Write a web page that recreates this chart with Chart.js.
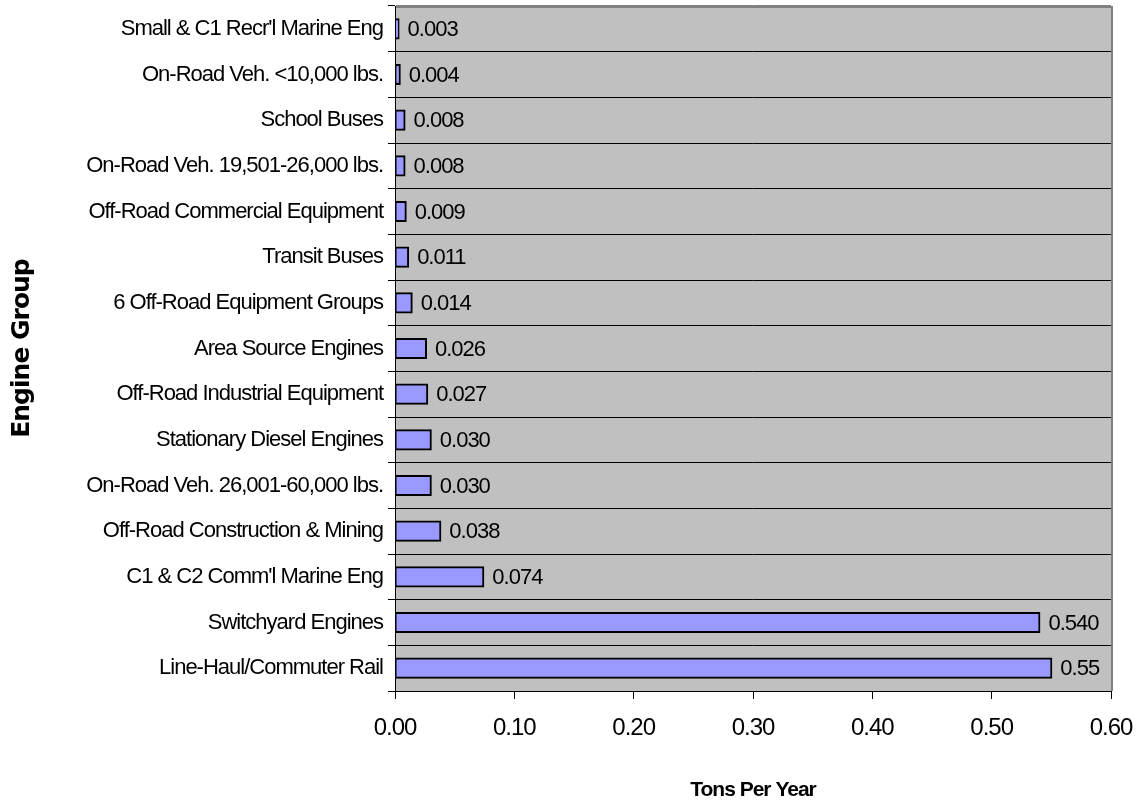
<!DOCTYPE html>
<html>
<head>
<meta charset="utf-8">
<title>Engine Group Emissions</title>
<script src="https://cdn.jsdelivr.net/npm/chart.js@4.4.1/dist/chart.umd.min.js"></script>
<style>
  html, body { margin: 0; padding: 0; background: #ffffff; }
  canvas { display: block; }
</style>
</head>
<body>
<canvas id="chart" width="1142" height="805"></canvas>
<script>
// Engine groups, listed top to bottom
const engineGroups = [
  "Small & C1 Recr'l Marine Eng",
  "On-Road Veh. <10,000 lbs.",
  "School Buses",
  "On-Road Veh. 19,501-26,000 lbs.",
  "Off-Road Commercial Equipment",
  "Transit Buses",
  "6 Off-Road Equipment Groups",
  "Area Source Engines",
  "Off-Road Industrial Equipment",
  "Stationary Diesel Engines",
  "On-Road Veh. 26,001-60,000 lbs.",
  "Off-Road Construction & Mining",
  "C1 & C2 Comm'l Marine Eng",
  "Switchyard Engines",
  "Line-Haul/Commuter Rail"
];

// Tons per year, written as printed beside each bar
const tonsPerYear = [
  "0.003", "0.004", "0.008", "0.008", "0.009",
  "0.011", "0.014", "0.026", "0.027", "0.030",
  "0.030", "0.038", "0.074", "0.540", "0.55"
];

// Value axis
const axisMin = 0;
const axisMax = 0.6;
const axisStep = 0.1;

const SANS = '"Liberation Sans", Arial, Helvetica, sans-serif';

Chart.defaults.color = '#000000';
Chart.defaults.font.family = SANS;

// Slightly tightened lettering for every piece of text on the canvas
const tightText = {
  id: 'tightText',
  beforeLayout(chart) { chart.ctx.letterSpacing = '-1px'; },
  beforeDraw(chart) { chart.ctx.letterSpacing = '-1px'; }
};

// Grey plot area with a grey frame on top and right
const plotFrame = {
  id: 'plotFrame',
  beforeDraw(chart) {
    const { ctx, chartArea: a } = chart;
    ctx.save();
    ctx.fillStyle = '#C0C0C0';
    ctx.fillRect(a.left, a.top, a.right - a.left, a.bottom - a.top);
    ctx.restore();
  },
  afterDraw(chart) {
    const { ctx, chartArea: a } = chart;
    ctx.save();
    ctx.strokeStyle = '#808080';
    ctx.lineWidth = 2;
    ctx.beginPath();
    ctx.moveTo(a.left + 1, a.top + 1);
    ctx.lineTo(a.right + 1, a.top + 1);
    ctx.lineTo(a.right + 1, a.bottom);
    ctx.stroke();
    ctx.restore();
  }
};

// Value text printed just past the end of each bar
const barValues = {
  id: 'barValues',
  afterDatasetsDraw(chart) {
    const { ctx } = chart;
    const meta = chart.getDatasetMeta(0);
    ctx.save();
    ctx.font = '22px ' + SANS;
    ctx.fillStyle = '#000000';
    ctx.textAlign = 'left';
    ctx.textBaseline = 'middle';
    meta.data.forEach((bar, i) => {
      ctx.fillText(tonsPerYear[i], bar.x + 9, bar.y + 1);
    });
    ctx.restore();
  }
};

new Chart(document.getElementById('chart'), {
  type: 'bar',
  data: {
    labels: engineGroups,
    datasets: [{
      data: tonsPerYear.map(Number),
      backgroundColor: '#9999FF',
      borderColor: '#000000',
      borderWidth: 2,
      borderSkipped: false,
      inflateAmount: 1,
      barPercentage: 0.42,
      categoryPercentage: 1
    }]
  },
  options: {
    indexAxis: 'y',
    responsive: false,
    animation: false,
    devicePixelRatio: 1,
    layout: { padding: { top: 6, right: 31, left: 0, bottom: 0 } },
    plugins: {
      legend: { display: false },
      tooltip: { enabled: false }
    },
    scales: {
      x: {
        min: axisMin,
        max: axisMax,
        afterFit(scale) {
          scale.height = 114;
          scale.paddingLeft = 0;
          scale.paddingRight = 0;
        },
        ticks: {
          stepSize: axisStep,
          padding: 15,
          font: { size: 24 },
          callback: (v) => Number(v).toFixed(2)
        },
        grid: {
          drawOnChartArea: false,
          drawTicks: true,
          tickLength: 8,
          tickColor: '#000000'
        },
        border: { display: true, color: '#000000', width: 1 },
        title: {
          display: true,
          text: 'Tons Per Year',
          font: { size: 21, weight: 'bold' },
          padding: { top: 0, bottom: 2 }
        }
      },
      y: {
        afterFit(scale) {
          scale.width = 395;
          scale.paddingTop = 0;
          scale.paddingBottom = 0;
        },
        ticks: {
          padding: 5,
          font: { size: 22 },
          autoSkip: false
        },
        grid: {
          offset: true,
          color: (c) => (c.index === 0 ? '#808080' : '#000000'),
          lineWidth: 1,
          drawTicks: true,
          tickLength: 7,
          tickColor: '#000000'
        },
        border: { display: true, color: '#000000', width: 1 },
        title: {
          display: true,
          text: 'Engine Group',
          font: { family: '"DejaVu Sans", sans-serif', size: 25, weight: 'bold' },
          padding: { top: 7, bottom: 0 }
        }
      }
    }
  },
  plugins: [tightText, plotFrame, barValues]
});
</script>
</body>
</html>
